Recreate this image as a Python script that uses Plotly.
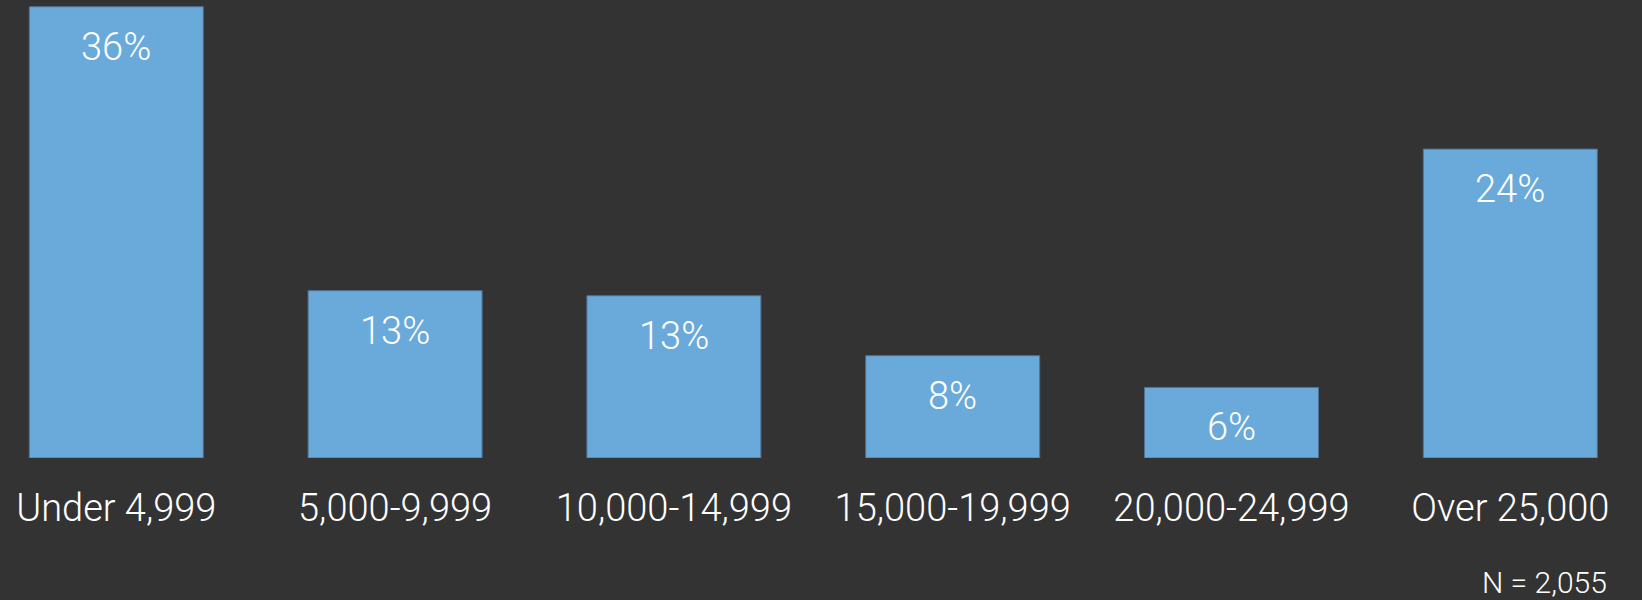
import plotly.graph_objects as go

categories = ["Under 4,999", "5,000-9,999", "10,000-14,999", "15,000-19,999", "20,000-24,999", "Over 25,000"]
values = [35.6, 13.2, 12.8, 8.07, 5.57, 24.37]
labels = ["36%", "13%", "13%", "8%", "6%", "24%"]
note = "N = 2,055"

FONT = "Roboto"
fig = go.Figure()
fig.add_trace(go.Bar(
    x=categories, y=values,
    marker=dict(color="#6aaadb", line=dict(color="#4f7396", width=1)),
    hoverinfo="skip",
))
for c, v, t in zip(categories, values, labels):
    fig.add_annotation(x=c, y=v, text=t, showarrow=False, yanchor="middle",
                       yshift=-40, font=dict(family=FONT, size=38, color="white", weight=300))
fig.add_annotation(xref="paper", yref="paper", x=1609/1642, y=(458.3-582.5)/458.3,
                   xanchor="right", yanchor="middle", text=note, showarrow=False,
                   font=dict(family=FONT, size=30, color="white", weight=300))

fig.update_layout(
    width=1642, height=600,
    margin=dict(l=0, r=0, t=0, b=142),
    paper_bgcolor="#333333", plot_bgcolor="#333333",
    bargap=0.376, showlegend=False,
    xaxis=dict(range=[-0.4171, 5.4724], showgrid=False, zeroline=False, showline=False,
               ticks="", ticklabelstandoff=24,
               tickfont=dict(family=FONT, size=38, color="white", weight=300)),
    yaxis=dict(range=[0, 36.13], visible=False, showgrid=False, zeroline=False),
)
fig.write_html(
    "out.html",
    config={"displayModeBar": False},
    post_script="document.body.style.margin='0';document.body.style.background='#333333';",
)
